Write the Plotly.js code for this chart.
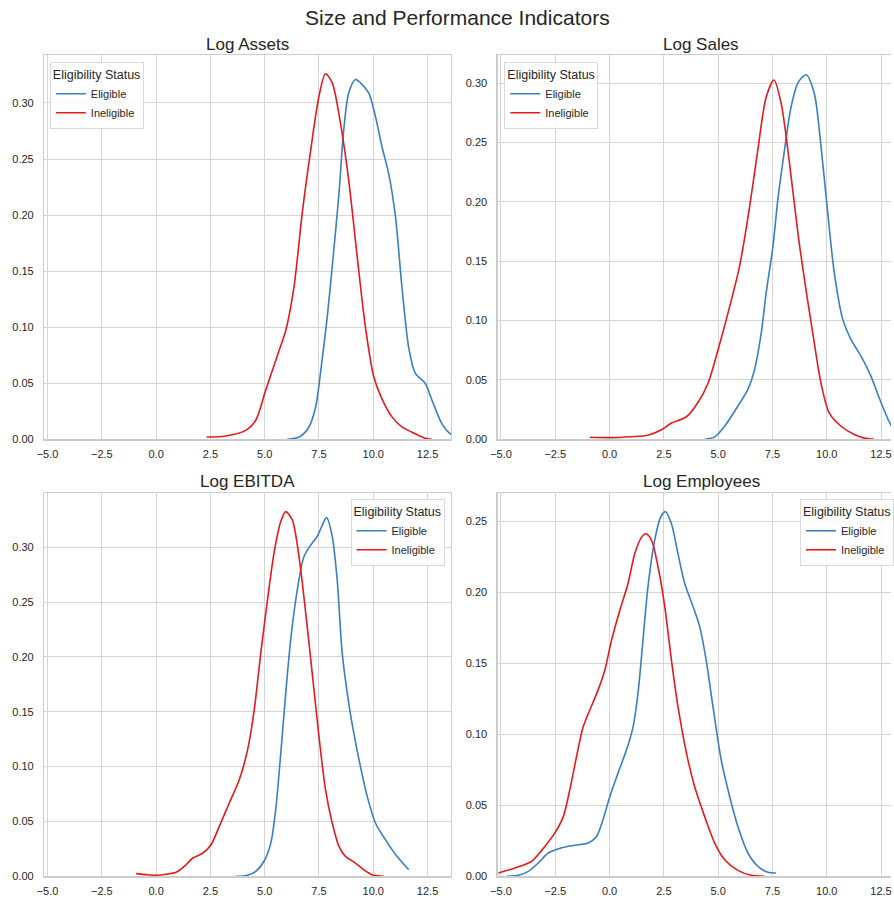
<!DOCTYPE html>
<html>
<head>
<meta charset="utf-8">
<script src="https://cdn.plot.ly/plotly-3.0.1.min.js"></script>
<style>html,body{margin:0;padding:0;background:#fff;}#chart{width:894px;height:899px;}</style>
</head>
<body>
<div id="chart"></div>
<script>
// ---- Data ----
const panelTitles = ["Log Assets", "Log Sales", "Log EBITDA", "Log Employees"];
const seriesNames = ["Eligible", "Ineligible"];
const xTickVals = [-5, -2.5, 0, 2.5, 5, 7.5, 10, 12.5];

const assetsEligX = [6.04, 6.58, 7.04, 7.35, 7.57, 7.88, 8.11, 8.42, 8.64, 8.87, 9.18, 9.41, 9.79, 10.10, 10.40, 10.71, 11.02, 11.32, 11.63, 11.93, 12.39, 12.70, 13.16, 13.54, 13.9];
const assetsEligY = [0.000, 0.002, 0.011, 0.029, 0.059, 0.109, 0.154, 0.219, 0.276, 0.309, 0.321, 0.318, 0.309, 0.288, 0.261, 0.237, 0.199, 0.136, 0.082, 0.059, 0.050, 0.035, 0.014, 0.005, 0.002];
const assetsInelX = [2.33, 3.21, 4.13, 4.59, 5.05, 5.66, 5.97, 6.35, 6.73, 7.12, 7.50, 7.80, 8.11, 8.49, 8.87, 9.26, 9.64, 10.02, 10.40, 10.86, 11.32, 11.93, 12.39, 12.70];
const assetsInelY = [0.002, 0.003, 0.008, 0.017, 0.044, 0.079, 0.097, 0.136, 0.202, 0.258, 0.306, 0.326, 0.318, 0.282, 0.231, 0.163, 0.100, 0.056, 0.036, 0.020, 0.011, 0.005, 0.001, 0.000];

const salesEligX = [4.38, 4.84, 5.30, 5.91, 6.37, 6.68, 6.98, 7.21, 7.52, 7.75, 8.06, 8.36, 8.67, 9.05, 9.43, 9.74, 10.05, 10.35, 10.74, 11.12, 11.58, 12.04, 12.50, 12.99, 13.4];
const salesEligY = [0.000, 0.002, 0.011, 0.028, 0.042, 0.059, 0.089, 0.123, 0.162, 0.202, 0.244, 0.280, 0.300, 0.307, 0.291, 0.246, 0.190, 0.140, 0.101, 0.084, 0.070, 0.053, 0.031, 0.011, 0.004];
const salesInelX = [-0.91, 0.01, 1.01, 1.77, 2.39, 2.85, 3.54, 4.07, 4.53, 4.99, 5.45, 5.99, 6.45, 6.83, 7.21, 7.57, 7.90, 8.29, 8.67, 8.98, 9.36, 9.74, 10.12, 10.66, 11.27, 11.73, 12.19];
const salesInelY = [0.0017, 0.0014, 0.0022, 0.0034, 0.008, 0.0137, 0.019, 0.031, 0.047, 0.075, 0.106, 0.146, 0.196, 0.244, 0.288, 0.3025, 0.283, 0.232, 0.174, 0.134, 0.089, 0.047, 0.022, 0.011, 0.004, 0.001, 0.000];

const ebitdaEligX = [3.67, 4.21, 4.59, 4.97, 5.28, 5.51, 5.74, 5.97, 6.20, 6.50, 6.81, 7.12, 7.42, 7.65, 7.85, 8.11, 8.34, 8.57, 8.87, 9.10, 9.41, 9.72, 10.10, 10.56, 11.09, 11.63];
const ebitdaEligY = [0.000, 0.001, 0.0045, 0.0137, 0.030, 0.061, 0.112, 0.167, 0.216, 0.261, 0.2915, 0.302, 0.310, 0.320, 0.327, 0.310, 0.270, 0.2035, 0.158, 0.131, 0.100, 0.073, 0.0486, 0.0334, 0.0182, 0.006];
const ebitdaInelX = [-0.92, -0.46, 0.0, 0.46, 0.92, 1.30, 1.69, 2.14, 2.53, 2.91, 3.37, 3.83, 4.21, 4.52, 4.82, 5.13, 5.43, 5.74, 5.97, 6.27, 6.58, 6.89, 7.19, 7.50, 7.80, 8.11, 8.42, 8.72, 9.18, 9.56, 9.94, 10.48];
const ebitdaInelY = [0.0024, 0.0015, 0.0009, 0.0018, 0.0036, 0.009, 0.0167, 0.021, 0.0288, 0.0455, 0.0668, 0.088, 0.115, 0.152, 0.2035, 0.252, 0.2946, 0.3234, 0.3325, 0.325, 0.2915, 0.240, 0.185, 0.1275, 0.079, 0.0486, 0.0273, 0.0182, 0.0121, 0.006, 0.0015, 0.000];

const emplEligX = [-4.74, -4.20, -3.74, -3.28, -2.82, -2.21, -1.60, -0.99, -0.60, -0.30, 0.01, 0.39, 0.78, 1.08, 1.31, 1.54, 1.77, 2.08, 2.36, 2.57, 2.85, 3.15, 3.46, 3.84, 4.15, 4.45, 4.76, 5.14, 5.53, 5.91, 6.37, 6.83, 7.29, 7.67];
const emplEligY = [0.000, 0.0007, 0.0035, 0.0094, 0.0164, 0.020, 0.0218, 0.0234, 0.028, 0.040, 0.056, 0.0726, 0.089, 0.105, 0.129, 0.1664, 0.204, 0.2366, 0.253, 0.2566, 0.248, 0.227, 0.206, 0.190, 0.1757, 0.152, 0.1195, 0.082, 0.0562, 0.035, 0.0164, 0.007, 0.0028, 0.0023];
const emplInelX = [-5.12, -4.36, -3.59, -2.98, -2.52, -2.13, -1.83, -1.52, -1.22, -0.91, -0.53, -0.22, 0.09, 0.47, 0.85, 1.16, 1.47, 1.67, 1.93, 2.23, 2.54, 2.85, 3.15, 3.54, 3.92, 4.38, 4.84, 5.30, 5.91, 6.52, 7.14];
const emplInelY = [0.0023, 0.0059, 0.0105, 0.021, 0.0305, 0.042, 0.061, 0.0843, 0.105, 0.117, 0.131, 0.145, 0.166, 0.187, 0.206, 0.227, 0.2385, 0.241, 0.2366, 0.218, 0.190, 0.152, 0.1195, 0.0867, 0.063, 0.042, 0.0234, 0.0117, 0.0042, 0.0007, 0.000];

// ---- Styling ----
const BLUE = "#3a7fbf";
const RED = "#e41a1c";
const GRID = "#d5d5d5";
const EDGE = "#cccccc";
const TXT = "#262626";
const FONT = "Liberation Sans, Arial, sans-serif";

const panels = [
  {ex: assetsEligX, ey: assetsEligY, ix: assetsInelX, iy: assetsInelY},
  {ex: salesEligX, ey: salesEligY, ix: salesInelX, iy: salesInelY},
  {ex: ebitdaEligX, ey: ebitdaEligY, ix: ebitdaInelX, iy: ebitdaInelY},
  {ex: emplEligX, ey: emplEligY, ix: emplInelX, iy: emplInelY}
];

const W = 894, H = 899;
const px = v => v / W;
const py = v => (H - v) / H;

const xDomLeft = [px(44.3), px(452.7)];
const xDomRight = [px(499.3), 1];
const yDomTop = [py(439.3), py(55)];
const yDomBot = [py(876.3), py(493.3)];

const xRangeLeft = [-5.155, 13.588];
const xRangeRight = [-5.155, 12.96];
const yRanges = [[0, 0.3428], [0, 0.3236], [0, 0.3492], [0, 0.2695]];
const yDtick = [0.05, 0.05, 0.05, 0.05];

const traces = [];
panels.forEach((p, i) => {
  const sfx = i === 0 ? "" : String(i + 1);
  const leg = i === 0 ? "legend" : "legend" + (i + 1);
  traces.push({x: p.ex, y: p.ey, type: "scatter", mode: "lines", name: seriesNames[0],
    line: {color: BLUE, width: 1.6, shape: "spline", smoothing: 0.8},
    xaxis: "x" + sfx, yaxis: "y" + sfx, legend: leg, showlegend: true, hoverinfo: "skip"});
  traces.push({x: p.ix, y: p.iy, type: "scatter", mode: "lines", name: seriesNames[1],
    line: {color: RED, width: 1.6, shape: "spline", smoothing: 0.8},
    xaxis: "x" + sfx, yaxis: "y" + sfx, legend: leg, showlegend: true, hoverinfo: "skip"});
});

function xAxis(dom, range, anchor, mirror) {
  return {domain: dom, range: range, anchor: anchor, tickvals: xTickVals, tickformat: ".1f",
    showgrid: true, gridcolor: GRID, gridwidth: 1, zeroline: false,
    showline: true, linecolor: EDGE, linewidth: 1.25, mirror: mirror, ticks: "",
    ticklabelstandoff: 4,
    tickfont: {family: FONT, size: 11, color: TXT}, fixedrange: true};
}
function yAxis(dom, range, anchor, mirror) {
  return {domain: dom, range: range, anchor: anchor, dtick: 0.05, tick0: 0, tickformat: ".2f",
    showgrid: true, gridcolor: GRID, gridwidth: 1, zeroline: false,
    showline: true, linecolor: EDGE, linewidth: 1.25, mirror: mirror, ticks: "",
    ticklabelstandoff: 7,
    tickfont: {family: FONT, size: 11, color: TXT}, fixedrange: true};
}

function legendAt(x, y, xanchor) {
  return {x: x, y: y, xanchor: xanchor, yanchor: "top", xref: "paper", yref: "paper",
    bgcolor: "rgba(255,255,255,0.85)", bordercolor: "#d9d9d9", borderwidth: 1,
    font: {family: FONT, size: 11, color: TXT},
    title: {text: "Eligibility Status", font: {family: FONT, size: 12.5, color: TXT}},
    tracegroupgap: 0, itemwidth: 30};
}

const annFont = {family: FONT, size: 17, color: TXT};
const layout = {
  width: W, height: H,
  margin: {l: 0, r: 0, t: 0, b: 0},
  paper_bgcolor: "#ffffff", plot_bgcolor: "#ffffff",
  showlegend: true,
  xaxis: xAxis(xDomLeft, xRangeLeft, "y", true),
  yaxis: yAxis(yDomTop, yRanges[0], "x", true),
  xaxis2: xAxis(xDomRight, xRangeRight, "y2", true),
  yaxis2: yAxis(yDomTop, yRanges[1], "x2", false),
  xaxis3: xAxis(xDomLeft, xRangeLeft, "y3", true),
  yaxis3: yAxis(yDomBot, yRanges[2], "x3", true),
  xaxis4: xAxis(xDomRight, xRangeRight, "y4", true),
  yaxis4: yAxis(yDomBot, yRanges[3], "x4", false),
  legend: legendAt(px(50), py(62), "left"),
  legend2: legendAt(px(506), py(62), "left"),
  legend3: legendAt(px(446), py(499), "right"),
  legend4: legendAt(px(803), py(499), "left"),
  annotations: [
    {text: "Size and Performance Indicators", x: px(459), y: py(17), xref: "paper", yref: "paper",
      xanchor: "center", yanchor: "middle", showarrow: false, font: {family: FONT, size: 21, color: TXT}},
    {text: panelTitles[0], x: px(248.5), y: py(44), xref: "paper", yref: "paper", xanchor: "center", yanchor: "middle", showarrow: false, font: annFont},
    {text: panelTitles[1], x: px(703.5), y: py(44), xref: "paper", yref: "paper", xanchor: "center", yanchor: "middle", showarrow: false, font: annFont},
    {text: panelTitles[2], x: px(248.5), y: py(481.5), xref: "paper", yref: "paper", xanchor: "center", yanchor: "middle", showarrow: false, font: annFont},
    {text: panelTitles[3], x: px(703.5), y: py(481.5), xref: "paper", yref: "paper", xanchor: "center", yanchor: "middle", showarrow: false, font: annFont}
  ]
};

Plotly.newPlot("chart", traces, layout, {displayModeBar: false, staticPlot: true});
</script>
</body>
</html>
